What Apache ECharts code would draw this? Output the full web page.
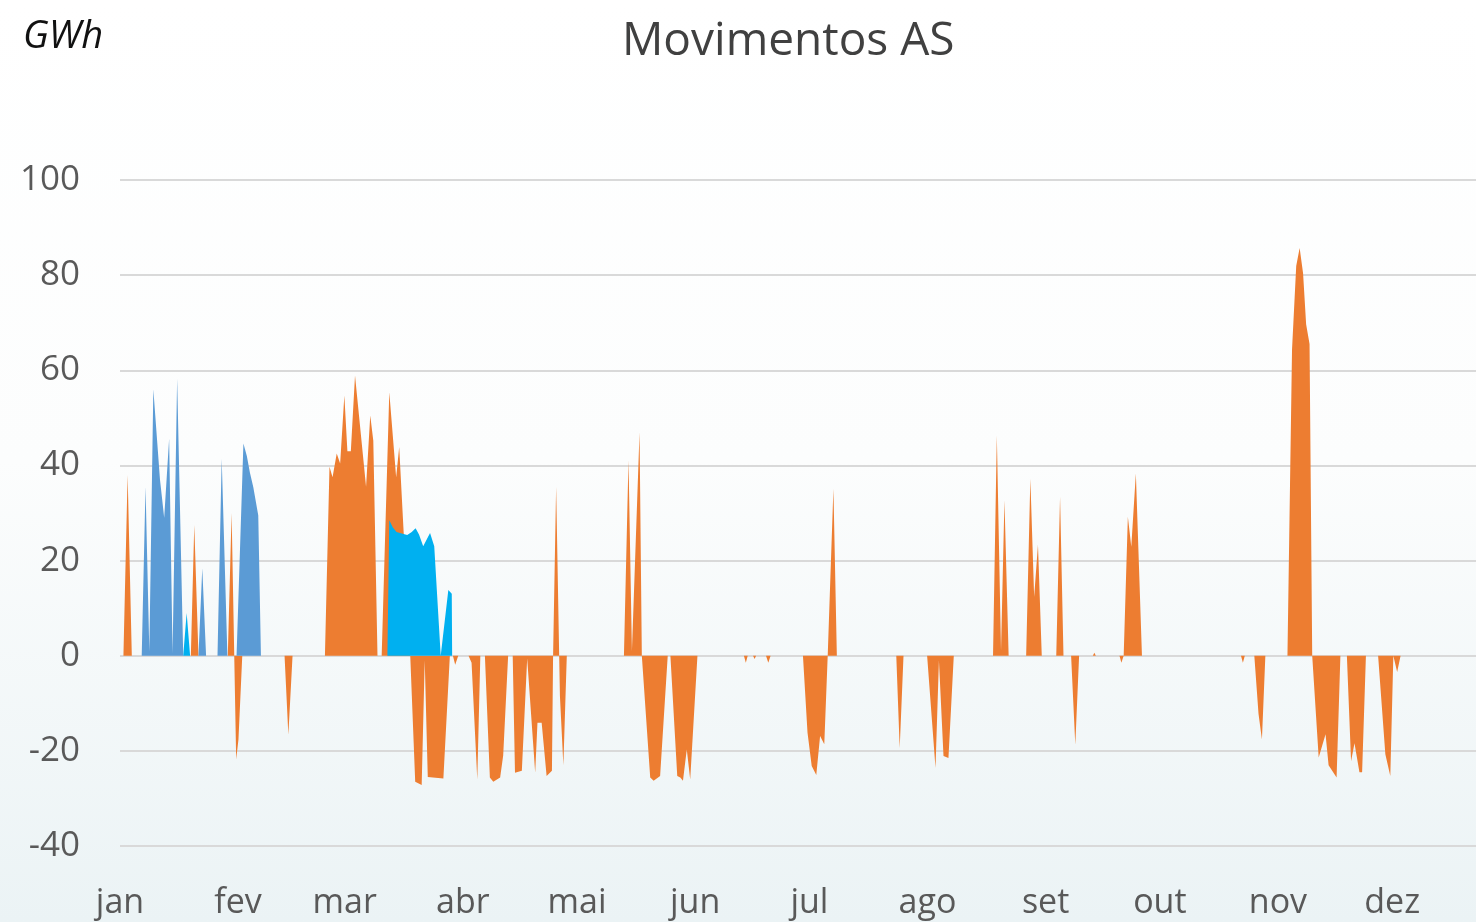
<!DOCTYPE html>
<html>
<head>
<meta charset="utf-8">
<script src="https://cdn.jsdelivr.net/npm/echarts@6/dist/echarts.min.js"></script>
<style>
  html, body { margin: 0; padding: 0; }
  #chart { width: 1476px; height: 922px; }
</style>
</head>
<body>
<div id="chart"></div>
<script>
// day of year (0 = 1 jan) -> GWh
const months = ['jan', 'fev', 'mar', 'abr', 'mai', 'jun', 'jul', 'ago', 'set', 'out', 'nov', 'dez']
const monthStarts = [0, 31, 59, 90, 120, 151, 181, 212, 243, 273, 304, 334]
const yTicks = [-40, -20, 0, 20, 40, 60, 80, 100]

const orange = [
  [0.9, 0], [2.0, 38], [3.1, 0],
  [18.6, 0], [19.5, 27.5], [20.6, 0],
  [28.3, 0], [29.3, 30], [30.5, -21.8], [31.1, -17.6], [32.1, 0],
  [43.2, 0], [44.2, -16.6], [45.3, 0],
  [53.8, 0], [55.0, 39.7], [55.8, 37.5], [56.9, 42.5], [57.8, 40.4], [58.9, 54.7], [59.7, 43],
  [60.6, 43], [61.7, 58.9], [64.6, 35.5], [65.7, 50.5], [66.5, 45.2], [67.6, 0],
  [68.7, 0], [70.7, 55.4], [72.5, 37.5], [73.3, 43.9], [74.4, 27], [76.2, 0], [77.5, -26.5],
  [79.2, -27.2], [80.0, -1], [80.8, -25.5], [84.9, -25.8], [86.6, 0],
  [87.4, 0], [88.0, -1.9], [88.8, 0],
  [91.5, 0], [92.3, -1.5], [93.8, -26], [94.6, 0],
  [95.8, 0], [97.1, -25.6], [98.0, -26.5], [99.8, -25.6], [100.6, -21], [101.9, 0],
  [103.1, 0], [103.7, -24.6], [105.5, -24.2], [106.9, -0.6], [109.0, -24.6], [109.6, -14.1],
  [110.7, -14.1], [112.0, -25.3], [113.4, -24.2], [113.7, 0], [114.5, 35.5],
  [115.3, 0], [115.5, -8.5], [116.4, -23], [117.3, 0],
  [132.3, 0], [133.5, 41.1], [134.4, 1], [136.4, 47], [137.0, 0], [139.2, -25.6], [140.1, -26.3],
  [141.8, -25.3], [143.8, 0],
  [144.5, 0], [146.3, -25.3], [147.1, -25.6], [147.8, -26.3], [148.8, -19.7], [149.7, -26], [151.6, 0],
  [163.8, 0], [164.3, -1.5], [164.8, 0],
  [166.2, 0], [166.6, -0.7], [167.0, 0],
  [169.6, 0], [170.2, -1.5], [170.8, 0],
  [179.3, 0], [180.5, -16.2], [181.6, -23.2], [182.8, -25.1], [183.8, -16.9], [184.9, -18.6],
  [185.8, 0], [187.3, 35.1], [188.2, 0],
  [203.8, 0], [204.7, -19.4], [205.7, 0],
  [211.9, 0], [214.1, -23.6], [215.0, -1], [216.2, -21.1], [217.5, -21.5], [218.9, 0],
  [229.2, 0], [230.2, 46.3], [231.3, 1], [232.2, 32.7], [233.3, 0],
  [237.9, 0], [239.0, 37.2], [240.0, 12.4], [241.0, 23.3], [242.0, 0],
  [245.8, 0], [246.8, 33.4], [247.7, 0],
  [249.7, 0], [250.8, -18.7], [251.8, 0],
  [255.4, 0], [255.8, 0.6], [256.2, 0],
  [262.4, 0], [262.9, -1.5], [263.5, 0], [264.6, 29.2], [265.5, 22.9], [266.7, 38.3], [268.3, 0],
  [294.3, 0], [294.8, -1.5], [295.3, 0],
  [297.8, 0], [298.9, -12.2], [299.8, -17.6], [300.7, 0],
  [306.5, 0], [307.7, 64.3], [308.8, 81.9], [309.7, 85.7], [310.6, 80.4], [311.4, 69.7],
  [312.3, 65.5], [313.0, 0], [314.7, -21.4], [316.5, -16.5], [317.3, -23], [319.4, -25.6], [320.4, 0],
  [322.1, 0], [323.2, -22.2], [324.1, -18.4], [325.4, -24.5], [326.1, -24.5], [327.1, 0],
  [330.3, 0], [332.2, -20.7], [333.5, -25.3], [334.3, 0], [335.3, -3.4], [336.2, 0]
]

const blue = [
  [5.7, 0], [6.7, 35.5], [7.7, 1], [8.75, 56], [10.5, 37], [11.6, 29], [12.9, 45.6], [13.8, 0.5],
  [15.0, 58.2], [16.6, 0],
  [20.6, 0], [21.6, 18.4], [22.6, 0],
  [25.6, 0], [26.7, 41.4], [28.2, 0],
  [30.6, 0], [32.4, 44.6], [33.3, 42], [34.1, 38.5], [35.0, 35.4], [36.3, 29.5], [37.0, 0]
]

const cyan = [
  [16.6, 0], [17.5, 9], [18.4, 0],
  [70.2, 0], [70.7, 28.5], [71.6, 27], [72.6, 26], [73.5, 25.8], [75.4, 25.4], [76.6, 26],
  [77.6, 26.8], [78.5, 25.5], [79.6, 23], [81.4, 25.8], [82.5, 23], [84.2, 0], [86.2, 13.8],
  [87.1, 13], [87.2, 0]
]

const chart = echarts.init(document.getElementById('chart'))

const area = (name, data, color) => ({
  name,
  type: 'line',
  data,
  symbol: 'none',
  lineStyle: { width: 0 },
  areaStyle: { color, opacity: 1 },
  itemStyle: { color },
  silent: true,
  animation: false
})

chart.setOption({
  backgroundColor: {
    type: 'linear', x: 0, y: 0, x2: 0, y2: 1,
    colorStops: [
      { offset: 0, color: '#ffffff' },
      { offset: 0.5, color: '#fcfdfd' },
      { offset: 1, color: '#ebf3f5' }
    ]
  },
  textStyle: { fontFamily: 'Open Sans' },
  title: [{
    text: 'Movimentos AS',
    left: 617,
    top: 14,
    textStyle: { fontSize: 46, fontWeight: 'normal', color: '#404040', fontFamily: 'Open Sans' }
  }, {
    text: 'GWh',
    left: 18,
    top: 13,
    textStyle: { fontSize: 38, fontWeight: 'normal', fontStyle: 'italic', color: '#111', fontFamily: 'Open Sans' }
  }],
  grid: { left: 120, right: 0, top: 180, bottom: 76 },
  xAxis: {
    type: 'value',
    min: 0,
    max: 356,
    axisLine: { show: false, onZero: false },
    axisTick: { show: false },
    splitLine: { show: false },
    axisLabel: {
      customValues: monthStarts,
      formatter: v => months[monthStarts.indexOf(v)],
      fontSize: 34,
      color: '#595959',
      margin: 40
    }
  },
  yAxis: {
    type: 'value',
    min: yTicks[0],
    max: yTicks[yTicks.length - 1],
    interval: 20,
    axisLine: { show: false },
    axisTick: { show: false },
    axisLabel: { fontSize: 35, color: '#595959', margin: 40 },
    splitLine: { lineStyle: { color: '#d9d9d9', width: 2 } }
  },
  series: [
    area('orange', orange, '#ED7D31'),
    area('blue', blue, '#5B9BD5'),
    area('cyan', cyan, '#00B0F0')
  ]
})
</script>
</body>
</html>
